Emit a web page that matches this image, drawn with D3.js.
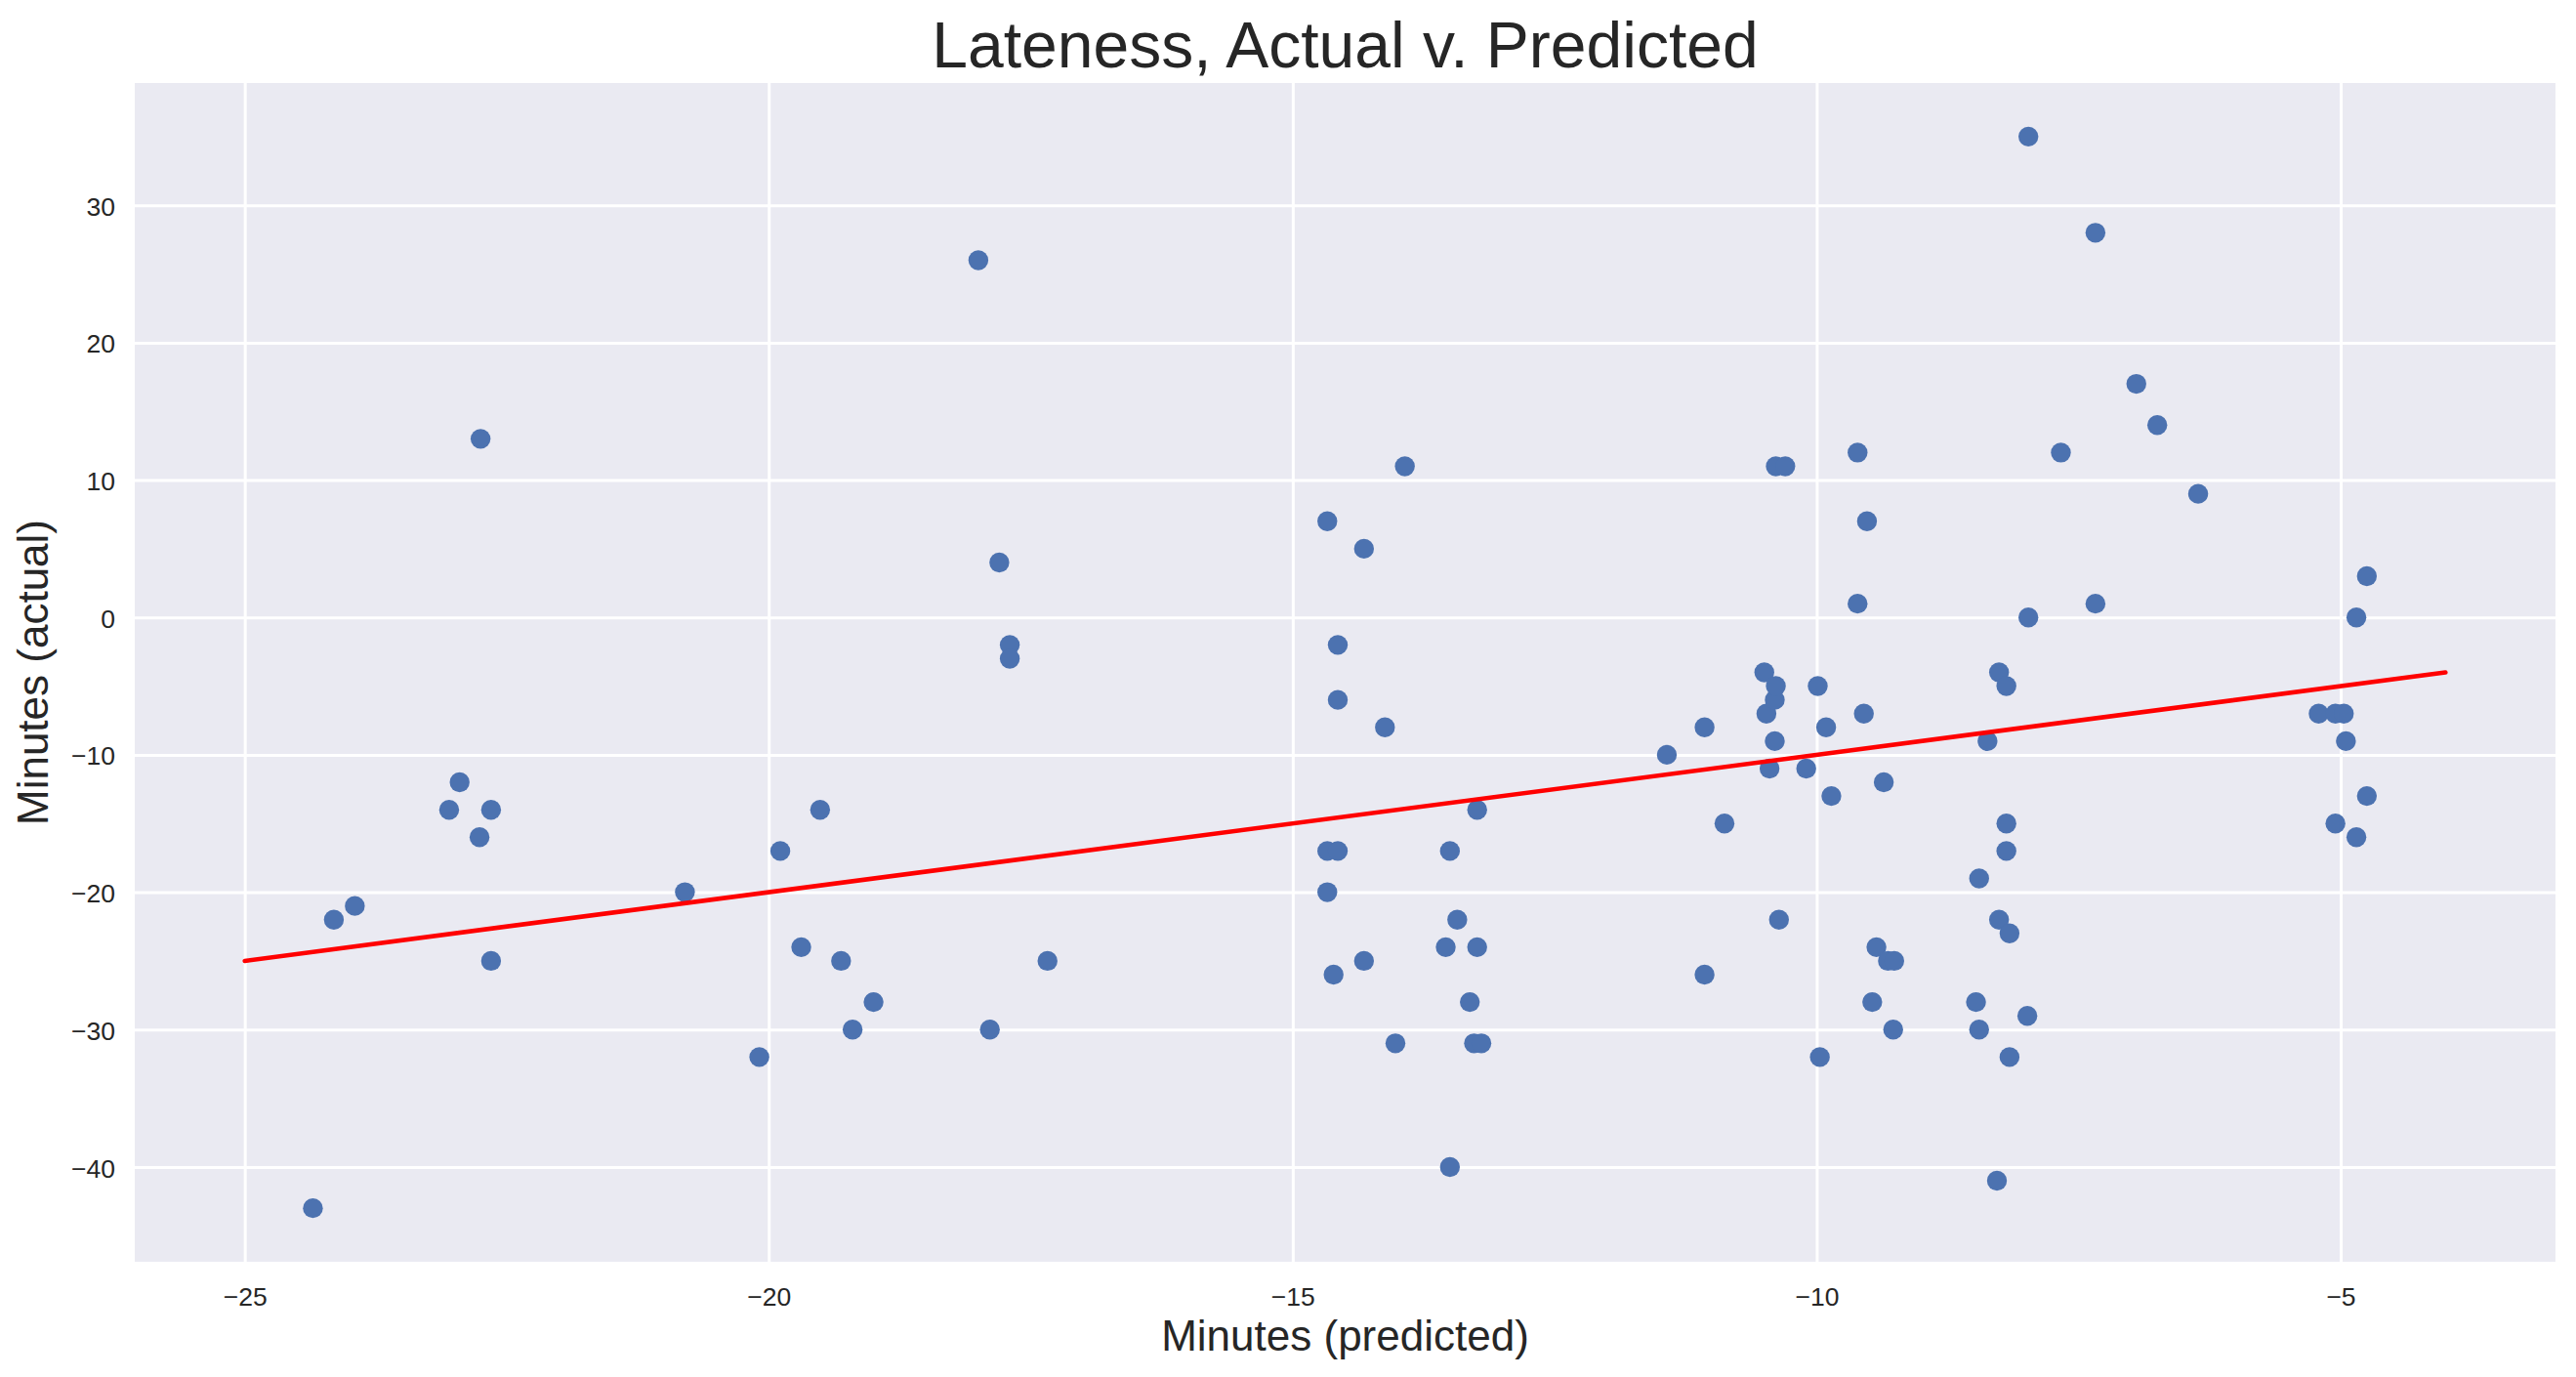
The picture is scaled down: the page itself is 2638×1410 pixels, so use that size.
<!doctype html>
<head>
  <meta charset="utf-8">
  <script src="https://cdnjs.cloudflare.com/ajax/libs/d3/7.8.2/d3.min.js"></script>
</head>
<style>
    body { margin: 0; background: white; }
    svg { display: block; font-family: "Liberation Sans", Arial, sans-serif; }
</style>
<body>
    <div id="chart"></div>
    <script>
        // Minutes predicted (x) and actual (y), one entry per trip
        const predicted = [
            -24.35, -24.15, -23.95, -23.05, -22.95, -22.76, -22.75, -22.65, -22.65,
            -20.80, -20.09, -19.89, -19.69, -19.51, -19.31, -19.20, -19.00,
            -18.00, -17.89, -17.80, -17.70, -17.70, -17.34,
            -14.67, -14.67, -14.67, -14.61, -14.57, -14.57, -14.57, -14.32, -14.32,
            -14.12, -14.02, -13.93, -13.54, -13.50, -13.50, -13.43, -13.31, -13.27,
            -13.24, -13.24, -13.20,
            -11.43, -11.07, -11.07, -10.88, -10.50, -10.48, -10.45, -10.40, -10.40,
            -10.39, -10.39, -10.36, -10.30, -10.10, -9.99, -9.97, -9.91, -9.86,
            -9.61, -9.61, -9.55, -9.52, -9.47, -9.43, -9.36, -9.32, -9.27, -9.26,
            -8.48, -8.45, -8.45, -8.37, -8.28, -8.26, -8.26, -8.19, -8.19, -8.19,
            -8.16, -8.16, -7.99, -7.98, -7.98, -7.67, -7.34, -7.34, -6.95, -6.75, -6.36,
            -5.21, -5.05, -5.05, -4.97, -4.95, -4.85, -4.85, -4.75, -4.75
        ];
        const actual = [
            -43, -22, -21, -14, -12, -16, 13, -14, -25,
            -20, -32, -17, -24, -14, -25, -30, -28,
            26, -30, 4, -2, -3, -25,
            7, -17, -20, -26, -2, -6, -17, 5, -25,
            -8, -31, 11, -24, -17, -40, -22, -28, -31,
            -14, -24, -31,
            -10, -8, -26, -15, -4, -7, -11, -6, -9,
            -5, 11, -22, 11, -11, -5, -32, -8, -13,
            12, 1, -7, 7, -28, -24, -12, -25, -30, -25,
            -28, -19, -30, -9, -41, -4, -22, -5, -15, -17,
            -23, -32, -29, 35, 0, 12, 28, 1, 17, 14, 9,
            -7, -7, -15, -7, -9, 0, -16, 3, -13
        ];
        // Reference line: actual == predicted
        const lineX = [-25, -4];
        const xTicks = [-25, -20, -15, -10, -5];
        const yTicks = [-40, -30, -20, -10, 0, 10, 20, 30];

        const width = 2638;
        const height = 1410;
        const margin = {top: 85, right: 21, bottom: 118, left: 138};
        const innerW = width - margin.left - margin.right;
        const innerH = height - margin.top - margin.bottom;
        const textColor = '#262626';

        const points = predicted.map((p, i) => ({x: p, y: actual[i]}));

        // matplotlib-like 5% padding around the data
        function padded(extent) {
            const pad = (extent[1] - extent[0]) * 0.05;
            return [extent[0] - pad, extent[1] + pad];
        }
        const xExtent = padded(d3.extent(predicted.concat(lineX)));
        const yExtent = padded(d3.extent(actual.concat(lineX)));

        const x = d3.scaleLinear().domain(xExtent).range([0, innerW]);
        const y = d3.scaleLinear().domain(yExtent).range([innerH, 0]);

        const svg = d3.select('#chart')
            .append('svg')
            .attr('width', width)
            .attr('height', height);

        const g = svg.append('g')
            .attr('transform', `translate(${margin.left},${margin.top})`);

        // Fondo del área de dibujo
        g.append('rect')
            .attr('width', innerW)
            .attr('height', innerH)
            .attr('fill', '#eaeaf2');

        // Ejes con rejilla blanca
        const xAxis = g.append('g')
            .attr('transform', `translate(0,${innerH})`)
            .call(d3.axisBottom(x).tickValues(xTicks).tickSize(-innerH).tickPadding(26));
        const yAxis = g.append('g')
            .call(d3.axisLeft(y).tickValues(yTicks).tickSize(-innerW).tickPadding(20));

        [xAxis, yAxis].forEach(axis => {
            axis.select('.domain').remove();
            axis.selectAll('.tick line')
                .attr('stroke', 'white')
                .attr('stroke-width', 3);
            axis.selectAll('.tick text')
                .attr('fill', textColor)
                .attr('font-family', '"Liberation Sans", Arial, sans-serif')
                .attr('font-size', 26.5);
        });
        yAxis.selectAll('.tick text').attr('dy', '0.38em');

        // Puntos
        g.selectAll('.dot')
            .data(points)
            .enter()
            .append('circle')
            .attr('class', 'dot')
            .attr('cx', d => x(d.x))
            .attr('cy', d => y(d.y))
            .attr('r', 10.2)
            .attr('fill', '#4c72b0');

        // Línea roja y = x
        g.append('path')
            .datum(lineX)
            .attr('d', d3.line().x(d => x(d)).y(d => y(d)))
            .attr('fill', 'none')
            .attr('stroke', 'red')
            .attr('stroke-width', 4.6)
            .attr('stroke-linecap', 'round');

        // Títulos
        svg.append('text')
            .attr('x', margin.left + innerW / 2)
            .attr('y', 69)
            .attr('text-anchor', 'middle')
            .attr('font-size', 66)
            .attr('fill', textColor)
            .text('Lateness, Actual v. Predicted');

        svg.append('text')
            .attr('x', margin.left + innerW / 2)
            .attr('y', 1383)
            .attr('text-anchor', 'middle')
            .attr('font-size', 44)
            .attr('fill', textColor)
            .text('Minutes (predicted)');

        svg.append('text')
            .attr('transform', `translate(49,${margin.top + innerH / 2}) rotate(-90)`)
            .attr('text-anchor', 'middle')
            .attr('font-size', 44)
            .attr('fill', textColor)
            .text('Minutes (actual)');
    </script>
</body>
